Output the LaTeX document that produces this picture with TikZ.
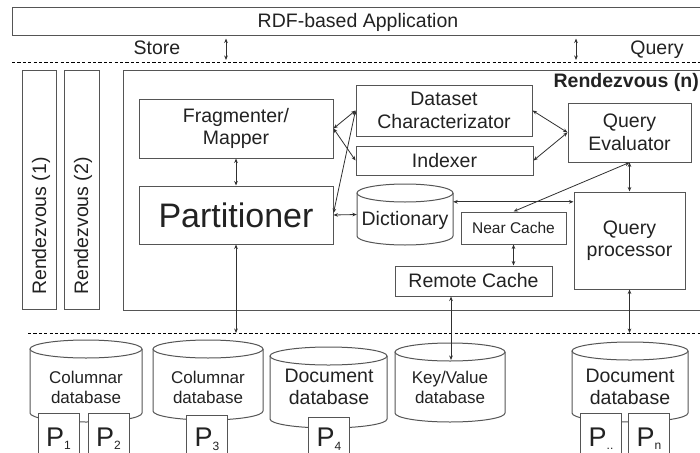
\documentclass[tikz,border=0pt]{standalone}
\usepackage{fontspec}
\setmainfont{Liberation Sans}
\usetikzlibrary{arrows.meta}
\definecolor{boxc}{HTML}{555555}
\definecolor{txtc}{HTML}{222222}
\definecolor{arrc}{HTML}{303030}
% cylinder outline: x1, ytop, x2, ybottom, ry (image pixels, y downwards)
\newcommand\dbcyl[5]{%
  \pgfmathsetmacro\cxa{(#1+#3)/2}%
  \pgfmathsetmacro\rxa{(#3-#1)/2}%
  \draw[cylline] (#1,-#2-#5) -- (#1,-#4+#5) arc[start angle=180,end angle=360,x radius=\rxa pt,y radius=#5pt] -- (#3,-#2-#5);
  \draw[cylline] (\cxa,-#2-#5) ellipse[x radius=\rxa pt,y radius=#5pt];}
\newcommand\psub[1]{P\raisebox{-3.5pt}{\fontsize{12pt}{12pt}\selectfont #1}}
\begin{document}
\begin{tikzpicture}[x=1pt,y=1pt,
  tx/.style={font=\fontsize{19.5pt}{22.5pt}\selectfont, text=txtc},
  box/.style={draw=boxc, line width=1pt, fill=white, inner sep=0pt, align=center, tx},
  cylline/.style={draw=boxc, line width=1pt, fill=white},
  dbtext/.style={align=center, inner sep=0pt, text=txtc, font=\fontsize{17pt}{20pt}\selectfont},
  dbtextl/.style={align=center, inner sep=0pt, text=txtc, font=\fontsize{19.5pt}{22pt}\selectfont},
  pbox/.style={draw=boxc, line width=1pt, fill=white, inner sep=0pt, anchor=north,
    minimum width=41pt, minimum height=48pt, text height=19pt, text depth=2pt,
    text=txtc, font=\fontsize{27pt}{27pt}\selectfont},
  dbl/.style={draw=arrc, line width=0.8pt,
    arrows={Stealth[length=4.5pt,width=3.6pt]-Stealth[length=4.5pt,width=3.6pt]}},
  dashline/.style={draw=black, line width=0.8pt, dash pattern=on 3.2pt off 2.2pt}]
\useasboundingbox (0,0) rectangle (700,-452);
\clip (0,0) rectangle (700,-452);
\fill[white] (0,0) rectangle (700,-452);

% application layer
\node[box, minimum width=692pt, minimum height=28pt] (app) at (358,-22) {RDF-based Application};
\node[tx, inner sep=0pt] (store) at (157,-48) {Store};
\node[tx, inner sep=0pt] (query) at (657,-49.5) {Query};
\coordinate (sarr) at (226,-60);
\coordinate (qarr) at (576,-60);
\draw[dbl, shorten <=2pt] (app.south -| sarr) -- (sarr);
\draw[dbl, shorten <=2pt] (app.south -| qarr) -- (qarr);
\coordinate (dl1a) at (12,-62);
\coordinate (dl1b) at (700,-62);
\draw[dashline] (dl1a) -- (dl1b);

% rendezvous nodes
\node[box, minimum width=34pt, minimum height=239pt] (r1) at (39,-189.5) {};
\node[tx, rotate=90, anchor=west, inner sep=0pt] (r1t) at (41,-295) {Rendezvous (1)};
\node[box, minimum width=35pt, minimum height=239pt] (r2) at (81.5,-189.5) {};
\node[tx, rotate=90, anchor=west, inner sep=0pt] (r2t) at (83,-295) {Rendezvous (2)};
\node[box, minimum width=600pt, minimum height=240pt, anchor=north west] (rn) at (123,-70) {};
\node[tx, font=\fontsize{19.5pt}{22.5pt}\selectfont\bfseries, anchor=base east, inner sep=0pt] (rnt) at (699,-87) {Rendezvous (n)};

% components
\node[box, minimum width=194pt, minimum height=59pt] (frag) at (236,-128.5) {Fragmenter/\\Mapper};
\node[box, minimum width=194pt, minimum height=58pt, font=\fontsize{34pt}{40pt}\selectfont] (part) at (236,-215) {Partitioner};
\node[box, minimum width=176pt, minimum height=51pt] (dsc) at (444,-110.5) {Dataset\\Characterizator};
\node[box, minimum width=177pt, minimum height=29pt] (idx) at (444.5,-160.5) {Indexer};
\node[box, minimum width=123pt, minimum height=59pt] (qe) at (629.5,-132.5) {Query\\Evaluator};
\node[box, minimum width=105pt, minimum height=32pt, font=\fontsize{15.5pt}{18pt}\selectfont] (near) at (513.5,-228) {Near Cache};
\node[box, minimum width=157pt, minimum height=30pt] (remote) at (473.5,-281) {Remote Cache};
\node[box, minimum width=111pt, minimum height=97pt] (qp) at (629.5,-240.5) {Query\\processor};
\dbcyl{357}{184}{453}{245}{9}
\node[tx, inner sep=0pt, minimum width=96pt, minimum height=61pt, text height=21pt, text depth=0pt] (dict) at (405,-214.5) {Dictionary};

% databases
\dbcyl{30}{340}{142}{422}{9}
\dbcyl{153}{340}{263}{420}{9}
\dbcyl{270}{347}{387}{428}{9}
\dbcyl{395}{343}{505}{422}{9}
\dbcyl{572}{342}{688}{422}{9}
\node[dbtext] (col1) at (86,-387) {Columnar\\database};
\node[dbtext] (col2) at (208,-387) {Columnar\\database};
\node[dbtextl] (doc1) at (329,-387) {Document\\database};
\node[dbtext] (kv) at (450,-387) {Key/Value\\database};
\node[dbtextl] (doc2) at (630,-387) {Document\\database};
\node[pbox] (p1) at (58.5,-413) {\psub{1}};
\node[pbox] (p2) at (108.5,-413) {\psub{2}};
\node[pbox, text height=16pt] (p3) at (207,-415) {\psub{3}};
\node[pbox, text height=12pt] (p4) at (329,-417) {\psub{4}};
\node[pbox] (pd) at (601,-413) {\psub{..}};
\node[pbox] (pn) at (649,-413) {\psub{n}};

\coordinate (dl2a) at (28,-333);
\coordinate (dl2b) at (700,-333);
\draw[dashline] (dl2a) -- (dl2b);

% connectors
\coordinate (pdash) at (236,-333);
\coordinate (qpdash) at (629.5,-333);
\coordinate (kvtop) at (451,-360);
\coordinate (dictr) at ([yshift=-18pt]dict.north east);
\draw[dbl] (frag.south) -- (part.north);
\draw[dbl] (frag.east) -- (dsc.west);
\draw[dbl] (frag.east) -- (idx.west);
\draw[dbl] ([yshift=2pt]part.east) -- (dsc.west);
\draw[dbl] (part.east) -- (dict.west);
\draw[dbl] (dsc.east) -- (qe.west);
\draw[dbl] (idx.east) -- (qe.west);
\draw[dbl] (dictr) -- (dictr -| qp.west);
\draw[dbl] (near.north) -- (qe.south);
\draw[dbl] (qe.south) -- (qp.north);
\draw[dbl] (near.south) -- (near.south |- remote.north);
\draw[dbl] (part.south) -- (pdash);
\draw[dbl] (remote.south -| kvtop) -- (kvtop);
\draw[dbl] (qp.south) -- (qpdash);
\end{tikzpicture}
\end{document}
